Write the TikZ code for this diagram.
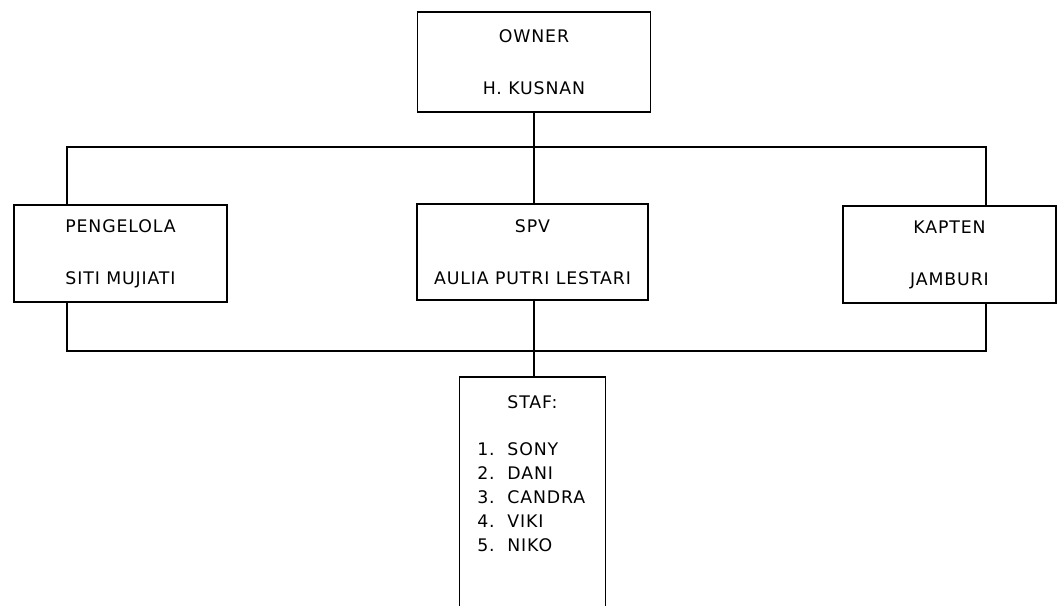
\documentclass[tikz,border=0pt]{standalone}
\usepackage{fontspec}
\setmainfont[LetterSpace=5]{DejaVu Sans}
\tikzset{
  jabatan/.style={draw,line width=1pt,align=center,inner sep=0pt,
    font=\fontsize{13}{15}\selectfont},
  garis/.style={line width=1pt},
  teks/.style={font=\fontsize{13}{15}\selectfont,inner sep=0pt}
}
\begin{document}
\begin{tikzpicture}[x=0.75pt,y=-0.75pt]
\useasboundingbox (0,0) rectangle (1059,606);
% kotak jabatan
\node[jabatan,minimum width=174.75pt,minimum height=75pt](owner) at (534,62){OWNER\\[24pt]H. KUSNAN};
\node[jabatan,minimum width=159.75pt,minimum height=72.75pt](peng) at (120.5,253.5){PENGELOLA\\[24pt]SITI MUJIATI};
\node[jabatan,minimum width=173.25pt,minimum height=72pt](spv) at (532.5,252){SPV\\[24pt]AULIA PUTRI LESTARI};
\node[jabatan,minimum width=159.75pt,minimum height=72.75pt](kapten) at (949.5,254.5){KAPTEN\\[24pt]JAMBURI};
% staf, terpotong di bawah
\node[minimum width=108.75pt,minimum height=171.75pt,inner sep=0pt,anchor=north](staf) at (532.5,377){};
\draw[garis](staf.south west)--(staf.north west)--(staf.north east)--(staf.south east);
\node[teks,anchor=base](stafjudul) at (532.5,408){STAF:};
\foreach \n/\nama in {1/SONY,2/DANI,3/CANDRA,4/VIKI,5/NIKO}
  \node[teks,anchor=base west](staf\n) at (477,431+24*\n){\n.\ \ \nama};
% garis penghubung
\coordinate(tl) at (67,147);
\coordinate(tr) at (986,147);
\coordinate(bl) at (67,351);
\coordinate(br) at (986,351);
\draw[garis](peng.north -| tl)--(tl)--(tr)--(kapten.north -| tr);
\draw[garis](peng.south -| bl)--(bl)--(br)--(kapten.south -| br);
\draw[garis](owner.south)--(owner.south |- spv.north);
\draw[garis](owner.south |- spv.south)--(owner.south |- staf.north);
\end{tikzpicture}
\end{document}
